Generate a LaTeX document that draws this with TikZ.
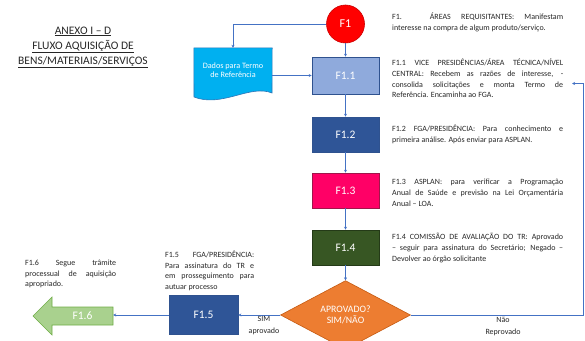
\documentclass[tikz,border=0pt]{standalone}
\usepackage{fontspec}
\setmainfont{Carlito}
\usetikzlibrary{arrows.meta,shapes.geometric}
\definecolor{textgray}{HTML}{262626}
\definecolor{linkblue}{HTML}{4472C4}
\definecolor{redf}{HTML}{FF0000}
\definecolor{lightblue}{HTML}{8FAADC}
\definecolor{darkblue}{HTML}{2F5597}
\definecolor{edgeblue}{HTML}{2F528F}
\definecolor{pinkf}{HTML}{FF0066}
\definecolor{pinkedge}{HTML}{A0164A}
\definecolor{greenf}{HTML}{375623}
\definecolor{greenedge}{HTML}{243A17}
\definecolor{orangef}{HTML}{ED7D31}
\definecolor{orangeedge}{HTML}{C55A11}
\definecolor{lightgreen}{HTML}{A9D18E}
\definecolor{lgedge}{HTML}{70AD47}
\definecolor{cyanf}{HTML}{00B0F0}
\definecolor{cyanedge}{HTML}{2E75B6}
\newcommand{\descsetup}{\tolerance=10000\relax\hbadness=10000\relax\hyphenpenalty=10000\relax}
\begin{document}
\begin{tikzpicture}[x=1pt,y=-1pt,
  stepbox/.style={rectangle, minimum width=67pt, minimum height=35pt, inner sep=0pt,
    line width=0.6pt, text=white, font=\fontsize{11.5}{13}\selectfont},
  conn/.style={draw=linkblue, line width=0.6pt, -{Stealth[length=3pt,width=3pt]}},
  desc/.style={anchor=north west, inner sep=0pt, text width=171pt, align=justify, text=textgray,
    font=\fontsize{8}{10.7}\selectfont},
  ttl/.style={anchor=base, inner sep=0pt, text=textgray, font=\fontsize{11.5}{14}\selectfont},
  lbl/.style={align=center, inner sep=0pt, text=textgray, font=\fontsize{8}{12}\selectfont}
]
\useasboundingbox (0,0) rectangle (585,340);

% title
\node[ttl] (t1) at (83,34) {\underline{ANEXO I – D}};
\node[ttl] (t2) at (83,49) {\underline{FLUXO AQUISIÇÃO DE}};
\node[ttl] (t3) at (83,64) {\underline{BENS/MATERIAIS/SERVIÇOS}};

% main column
\node[circle, minimum size=38pt, inner sep=0pt, fill=redf, draw=redf!80!black, line width=0.6pt,
  text=white, font=\fontsize{12}{14}\selectfont] (f1) at (345.5,24) {F1};
\node[stepbox, fill=lightblue, draw=edgeblue, minimum height=37pt] (f11) at (345.5,75.5) {F1.1};
\node[stepbox, fill=darkblue, draw=edgeblue] (f12) at (345.5,134.5) {F1.2};
\node[stepbox, fill=pinkf, draw=pinkedge] (f13) at (345.5,190.5) {F1.3};
\node[stepbox, fill=greenf, draw=greenedge] (f14) at (345.5,247.5) {F1.4};
\node[diamond, minimum width=130pt, minimum height=64pt, inner sep=0pt, fill=orangef,
  draw=orangeedge, line width=0.6pt, text=white, align=center,
  font=\fontsize{9.8}{11.5}\selectfont] (dia) at (345.5,315) {APROVADO?\\SIM/NÃO};
\node[stepbox, fill=darkblue, draw=edgeblue, minimum width=69pt, minimum height=39pt] (f15) at (203.5,315) {F1.5};

% document shape
\node[inner sep=0pt, minimum width=78pt, minimum height=46pt] (dados) at (233,71) {};
\filldraw[fill=cyanf, draw=cyanedge, line width=0.6pt]
  (dados.north west) -- (dados.north east) -- (272,93)
  .. controls (250,84) and (222,108) .. (194,97) -- cycle;
\node[align=center, text=white, inner sep=0pt, font=\fontsize{8.2}{9.5}\selectfont] (dadost) at (233,70) {Dados para Termo\\de Referência};

% F1.6 arrow
\filldraw[fill=lightgreen, draw=lgedge, line width=0.6pt]
  (33,316) -- (52,297) -- (52,307) -- (113,307) -- (113,325) -- (52,325) -- (52,335) -- cycle;
\node[inner sep=0pt, minimum width=61pt, minimum height=18pt, text=white,
  font=\fontsize{11.5}{13}\selectfont] (f16) at (82.5,316) {F1.6};

% connectors
\draw[conn] (f1.west) -| (dados.north);
\draw[conn] (dados.east |- f11.west) -- (f11.west);
\draw[conn] (f1.south) -- (f11.north);
\draw[conn] (f11.south) -- (f12.north);
\draw[conn] (f12.south) -- (f13.north);
\draw[conn] (f13.south) -- (f14.north);
\draw[conn] (f14.south) -- (dia.north);
\draw[conn] (dia.west) -- (f15.east);
\draw[conn] (f15.west) -- (f15.west -| f16.east);
\coordinate (fbtop) at (583,83.5);
\coordinate (fbend) at (572,83.5);
\draw[conn] (dia.east) -| (fbtop) -- (fbend);

% labels
\node[lbl] (sim) at (264,326) {SIM\\aprovado};
\node[lbl] (nao) at (503,326) {Não\\Reprovado};

% descriptions
\node[desc] (d1) at (392,12.2) {\descsetup\strut F1. ÁREAS REQUISITANTES: Manifestam\linebreak interesse na compra de algum produto/serviço.};
\node[desc] (d11) at (392,58.2) {\descsetup\strut F1.1 VICE PRESIDÊNCIAS/ÁREA TÉCNICA/NÍVEL\linebreak CENTRAL: Recebem as razões de interesse, -\linebreak consolida solicitações e monta Termo de\linebreak Referência. Encaminha ao FGA.};
\node[desc] (d12) at (392,124.2) {\descsetup\strut F1.2 FGA/PRESIDÊNCIA: Para conhecimento e\linebreak primeira análise. Após enviar para ASPLAN.};
\node[desc] (d13) at (392,177.2) {\descsetup\strut F1.3 ASPLAN: para verificar a Programação\linebreak Anual de Saúde e previsão na Lei Orçamentária\linebreak Anual – LOA.};
\node[desc] (d14) at (392,232.2) {\descsetup\strut F1.4 COMISSÃO DE AVALIAÇÃO DO TR: Aprovado\linebreak – seguir para assinatura do Secretário; Negado –\linebreak Devolver ao órgão solicitante};
\node[desc, text width=89pt] (d15) at (165,249.7) {\descsetup\strut F1.5 FGA/PRESIDÊNCIA:\linebreak Para assinatura do TR e\linebreak em prosseguimento para\linebreak autuar processo};
\node[desc, text width=91pt] (d16) at (25,257.7) {\descsetup\strut F1.6 Segue trâmite\linebreak processual de aquisição\linebreak apropriado.};
\end{tikzpicture}
\end{document}
